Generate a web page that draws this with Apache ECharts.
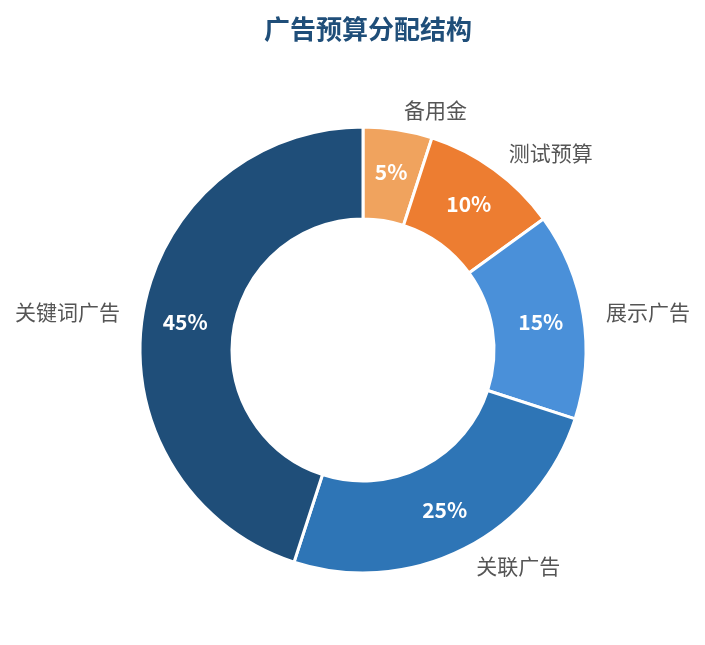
<!DOCTYPE html>
<html>
<head>
<meta charset="utf-8">
<style>
  html, body { margin: 0; padding: 0; background: #fff; }
  #chart { width: 705px; height: 645px; }
</style>
<script src="https://cdn.jsdelivr.net/npm/echarts@6/dist/echarts.min.js"></script>
</head>
<body>
<div id="chart"></div>
<script>
// 预算分配 (%)
var names = ['备用金', '测试预算', '展示广告', '关联广告', '关键词广告'];
var values = [5, 10, 15, 25, 45];
var colors = ['#F0A35E', '#ED7D31', '#4A90D9', '#2E75B6', '#1F4E79'];

var pieData = names.map(function (n, i) {
  return { name: n, value: values[i], itemStyle: { color: colors[i] } };
});

var myChart = echarts.init(document.getElementById('chart'));
var font = '"Noto Sans CJK SC", "Noto Sans", sans-serif';

var option = {
  backgroundColor: '#fff',
  title: {
    text: '广告预算分配结构',
    left: 363,
    textAlign: 'center',
    top: 11,
    textStyle: { fontSize: 26, fontWeight: 'bold', color: '#1F4E79', fontFamily: font }
  },
  series: [
    {
      type: 'pie',
      center: [363, 350],
      radius: [131, 223],
      startAngle: 90,
      clockwise: true,
      itemStyle: { borderColor: '#fff', borderWidth: 3 },
      label: {
        show: true,
        position: 'outside',
        formatter: '{b}',
        fontSize: 21,
        color: '#555',
        fontFamily: font,
        distanceToLabelLine: 3
      },
      labelLine: { show: false, length: 20, length2: 0 },
      emphasis: { disabled: true },
      data: pieData
    },
    {
      type: 'pie',
      center: [363, 350],
      radius: [131, 223],
      startAngle: 90,
      clockwise: true,
      silent: true,
      itemStyle: { borderColor: '#fff', borderWidth: 3 },
      label: {
        show: true,
        position: 'inside',
        formatter: '{c}%',
        fontSize: 21,
        fontWeight: 'bold',
        color: '#fff',
        fontFamily: font
      },
      labelLine: { show: false },
      data: pieData
    }
  ]
};

myChart.setOption(option);
</script>
</body>
</html>
